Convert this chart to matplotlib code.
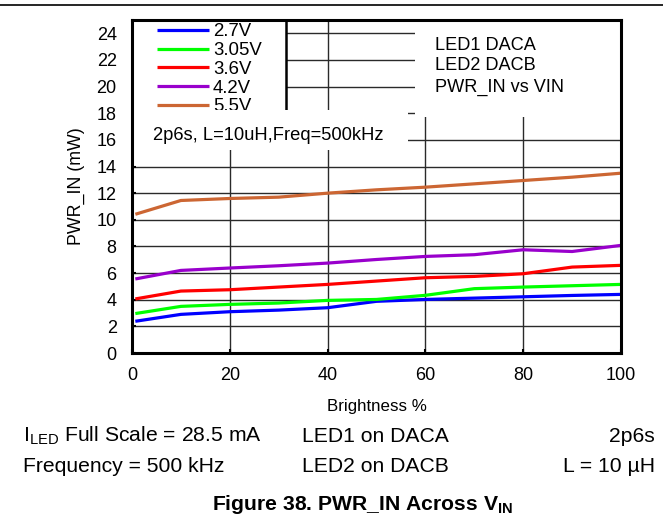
import matplotlib
matplotlib.use("Agg")
import matplotlib.pyplot as plt
from matplotlib.patches import Rectangle

plt.rcParams["font.family"] = ["Liberation Sans", "DejaVu Sans"]
plt.rcParams["mathtext.fontset"] = "custom"
plt.rcParams["mathtext.rm"] = "Liberation Sans"
plt.rcParams["mathtext.bf"] = "Liberation Sans:bold"
plt.rcParams["mathtext.it"] = "Liberation Sans:italic"

# brightness (%) and input power (mW) per supply voltage
brightness = [1, 10, 20, 30, 40, 50, 60, 70, 80, 90, 100]
pwr_2v7 = [2.4, 2.9, 3.1, 3.22, 3.4, 3.88, 4.02, 4.12, 4.22, 4.32, 4.4]
pwr_3v05 = [2.98, 3.5, 3.65, 3.75, 3.95, 4.02, 4.33, 4.83, 4.95, 5.05, 5.15]
pwr_3v6 = [4.08, 4.65, 4.75, 4.95, 5.15, 5.4, 5.65, 5.75, 5.95, 6.45, 6.58]
pwr_4v2 = [5.58, 6.2, 6.38, 6.55, 6.75, 7.02, 7.25, 7.38, 7.75, 7.62, 8.08]
pwr_5v5 = [10.45, 11.45, 11.6, 11.7, 12.0, 12.25, 12.45, 12.7, 12.95, 13.2, 13.5]

series = [pwr_2v7, pwr_3v05, pwr_3v6, pwr_4v2, pwr_5v5]
labels = ["2.7V", "3.05V", "3.6V", "4.2V", "5.5V"]
colors = ["#0000ff", "#00ff00", "#ff0000", "#9900cc", "#cc6633"]

x_ticks = [0, 20, 40, 60, 80, 100]
y_ticks = list(range(0, 25, 2))

W, H = 663, 522
L, R, T, B = 132, 621, 20, 353

fig = plt.figure(figsize=(6.63, 5.22), dpi=100)
ax = fig.add_axes([L / W, 1 - B / H, (R - L) / W, (B - T) / H])
tr = ax.transAxes


def axpos(px, py):
    # pixel position in the image -> axes fraction
    return (px - L) / (R - L), (B - py) / (B - T)


for vals, lab, col in zip(series, labels, colors):
    ax.plot(brightness, vals, color=col, lw=2.3, zorder=3)

ax.set_xlim(0, 100)
ax.set_ylim(0, 25)
ax.set_xticks(x_ticks)
ax.set_yticks(y_ticks)
ax.grid(True, color="#2a2a2a", lw=1.0)
ax.set_axisbelow(True)
ax.tick_params(direction="in", length=3, width=1.5, labelsize=13)
ax.tick_params(axis="y", pad=11)
ax.tick_params(axis="x", pad=10)
for s in ax.spines.values():
    s.set_linewidth(2.2)
    s.set_zorder(10)

ax.set_xlabel("Brightness %", fontsize=12.2, labelpad=11)
ax.set_ylabel("PWR_IN (mW)", fontsize=12.8, labelpad=8)

# white panels over the grid, like the original
x0, y0 = axpos(L, 110)
x1, _ = axpos(286, 110)
ax.add_patch(Rectangle((0, y0), x1, 1 - y0, transform=tr, facecolor="white",
                       edgecolor="none", zorder=4))
ax.plot([x1, x1], [y0, 1.0], transform=tr, color="black", lw=1.8, zorder=5)

x2, y2 = axpos(415, 117)
ax.add_patch(Rectangle((x2, y2), 1 - x2, 1 - y2, transform=tr, facecolor="white",
                       edgecolor="none", zorder=4))

# legend drawn by hand so it can be cut by the note box
hx0, _ = axpos(157, 0)
hx1, _ = axpos(209, 0)
tx, _ = axpos(213, 0)
for i, (lab, col) in enumerate(zip(labels, colors)):
    _, yy = axpos(0, 30 + 18.7 * i)
    _, yb = axpos(0, 30 + 18.7 * i + 6.5)
    ax.plot([hx0, hx1], [yy, yy], transform=tr, color=col, lw=2.3, zorder=5,
            solid_capstyle="butt")
    ax.text(tx, yb, lab, transform=tr, fontsize=13.4, va="baseline", ha="left", zorder=5)

bx, by0 = axpos(408, 150)
_, by1 = axpos(0, 110)
ax.add_patch(Rectangle((0, by0), bx, by1 - by0, transform=tr, facecolor="white",
                       edgecolor="none", zorder=6))
nx, ny = axpos(153, 139.5)
ax.text(nx, ny, "2p6s, L=10uH,Freq=500kHz", transform=tr, fontsize=13.2,
        va="baseline", ha="left", zorder=7)

for py, t in zip([43, 63.5, 85], ["LED1 DACA", "LED2 DACB", "PWR_IN vs VIN"]):
    lx, ly = axpos(435, py + 6.5)
    ax.text(lx, ly, t, transform=tr, fontsize=13.1, va="baseline", ha="left", zorder=7)

# rule at the top of the page
fig.add_artist(plt.Line2D([0, 1], [1 - 5 / H, 1 - 5 / H], color="black", lw=1.2))

# notes below the chart
fs = 15.2
fig.text(23 / W, 1 - 442 / H, r"I$_\mathregular{LED}$ Full Scale = 28.5 mA", fontsize=fs, va="baseline")
fig.text(23 / W, 1 - 472 / H, "Frequency = 500 kHz", fontsize=fs, va="baseline")
fig.text(302 / W, 1 - 442 / H, "LED1 on DACA", fontsize=fs, va="baseline")
fig.text(302 / W, 1 - 472 / H, "LED2 on DACB", fontsize=fs, va="baseline")
fig.text(655 / W, 1 - 442 / H, "2p6s", fontsize=fs, va="baseline", ha="right")
fig.text(655 / W, 1 - 472 / H, "L = 10 µH", fontsize=fs, va="baseline", ha="right")
fig.text(363 / W, 1 - 510 / H, r"Figure 38. PWR_IN Across V$_\mathbf{IN}$", fontsize=15.2,
         fontweight="bold", va="baseline", ha="center")

fig.savefig("out.png", dpi=100)
